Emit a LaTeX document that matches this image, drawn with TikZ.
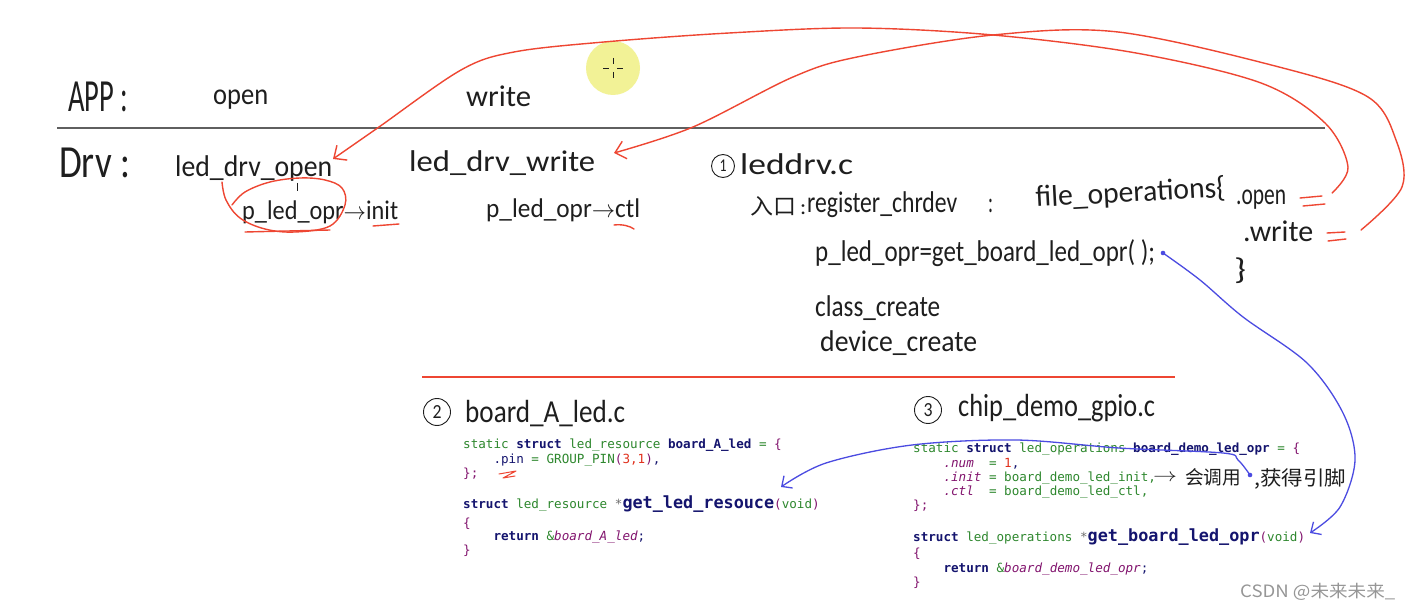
\documentclass[tikz,border=0pt]{standalone}
\usepackage{fontspec}
\usepackage{graphicx}
\usetikzlibrary{arrows.meta}
\newfontfamily\hwfont{Carlito}
\newfontfamily\codefont{DejaVu Sans Mono}
\newfontfamily\cjk{Noto Sans CJK SC}
\definecolor{ink}{RGB}{30,30,30}
\definecolor{penred}{RGB}{238,70,50}
\definecolor{penblue}{RGB}{75,75,225}
\definecolor{rulegray}{RGB}{95,95,95}
\definecolor{hilite}{RGB}{242,242,150}
\definecolor{cgreen}{RGB}{45,135,45}
\definecolor{cnavy}{RGB}{20,20,110}
\definecolor{cpurple}{RGB}{130,20,110}
\definecolor{cred}{RGB}{225,50,30}
\definecolor{cgray}{RGB}{110,110,110}
\definecolor{wm}{RGB}{150,150,150}
\newcommand\hw[3]{\resizebox{#2pt}{\height}{\fontsize{#1}{#1}\selectfont\hwfont #3}}
\newcommand\codesize{\codefont\fontsize{12.6}{15}\selectfont}
\newcommand\cG[1]{\textcolor{cgreen}{#1}}
\newcommand\cN[1]{\textcolor{cnavy}{\textbf{#1}}}
\newcommand\cD[1]{\textcolor{cnavy}{#1}}
\newcommand\cP[1]{\textcolor{cpurple}{#1}}
\newcommand\cR[1]{\textcolor{cred}{#1}}
\newcommand\cI[1]{\textcolor{cpurple}{\itshape #1}}
\newcommand\bigfn[1]{{\fontsize{16.8}{18}\selectfont\cN{#1}}}
\newcommand\ind{\phantom{0000}}
\begin{document}
\begin{tikzpicture}[x=1pt,y=-1pt,
  hand/.style={anchor=base west,inner sep=0,text=ink},
  codeline/.style={anchor=base west,inner sep=0,font=\codesize,text=cnavy},
  redpen/.style={draw=penred,line width=1.4pt,line cap=round,line join=round},
  bluepen/.style={draw=penblue,line width=1.3pt,line cap=round,line join=round},
  circ/.style={circle,draw=ink,line width=0.9pt,inner sep=0,text=ink},
]
\useasboundingbox (0,0) rectangle (1411,609);
\fill[white] (0,0) rectangle (1411,609);

% cursor highlight
\fill[hilite] (613,68) circle (27);
\draw[ink,line width=0.6pt] (603,68)--(609,68) (617,68)--(623,68) (613,58)--(613,64) (613,72)--(613,78);

% rules
\draw[rulegray,line width=1.5pt] (57,128) -- (1325,128);
\draw[penred,line width=1.3pt] (422,377) -- (1175,377);

% APP / Drv rows
\node[hand] (app) at (68,112) {\hw{46}{60}{APP :}};
\node[hand] (open) at (213,105) {\hw{30}{55}{open}};
\node[hand] (write) at (466,107) {\hw{30}{65}{write}};
\node[hand] (drv) at (59,178) {\hw{46}{71}{Drv :}};
\node[hand] (drvopen) at (175,177) {\hw{30}{157}{led\_drv\_open}};
\node[hand] (drvwrite) at (409,172) {\hw{30}{186}{led\_drv\_write}};
\node[hand] (initcall) at (242,220) {\hw{27}{156}{p\_led\_opr$\rightarrow$init}};
\node[hand] (ctlcall) at (486,218) {\hw{27}{154}{p\_led\_opr$\rightarrow$ctl}};

% leddrv.c
\node[circ,minimum size=23pt] (c1) at (723,166) {\hw{18}{7}{1}};
\node[hand] (leddrv) at (740,175) {\hw{30}{113}{leddrv.c}};
\node[hand] (entry) at (750,215) {\resizebox{56pt}{\height}{\fontsize{22}{22}\selectfont\cjk 入口\hwfont\,:}};
\node[hand] (reg) at (807,213) {\hw{30}{150}{register\_chrdev}};
\node[hand] (colon2) at (988,213) {\hw{30}{5}{:}};
\node[hand,rotate=3] (fops) at (1036,207) {\hw{30}{190}{file\_operations\{}};
\node[hand] (fopen) at (1236,205) {\hw{30}{50}{.open}};
\node[hand] (fwrite) at (1243,242) {\hw{30}{70}{.write}};
\node[hand] (fclose) at (1234,280) {\hw{30}{12}{\}}};
\node[hand] (getopr) at (815,262) {\hw{30}{340}{p\_led\_opr=get\_board\_led\_opr( );}};
\node[hand] (classc) at (815,317) {\hw{30}{125}{class\_create}};
\node[hand] (devc) at (820,352) {\hw{30}{157}{device\_create}};

% board_A_led.c
\node[circ,minimum size=27pt] (c2) at (437,412) {\hw{20}{9}{2}};
\node[hand] (boardA) at (465,422) {\hw{32}{160}{board\_A\_led.c}};
\node[codeline] (a1) at (463,449) {\cG{static} \cN{struct} \cG{led\_resource} \cN{board\_A\_led} \cG{=} \cP{\{}};
\node[codeline] (a2) at (463,463) {\ind\cD{.pin} \cG{=} \cG{GROUP\_PIN}\cP{(}\cR{3,1}\cP{)}\cD{,}};
\node[codeline] (a3) at (463,477) {\cP{\};}};
\node[codeline] (a4) at (463,508) {\cN{struct} \cG{led\_resource} \textcolor{cgray}{*}\bigfn{get\_led\_resouce}\cP{(}\cG{void}\cP{)}};
\node[codeline] (a5) at (463,527) {\cP{\{}};
\node[codeline] (a6) at (463,540) {\ind\cN{return} \cG{\&}\cI{board\_A\_led}\cD{;}};
\node[codeline] (a7) at (463,554) {\cP{\}}};

% chip_demo_gpio.c
\node[circ,minimum size=27pt] (c3) at (928,410) {\hw{20}{9}{3}};
\node[hand] (chip) at (958,417) {\hw{32}{197}{chip\_demo\_gpio.c}};
\node[codeline] (b1) at (913,453) {\cG{static} \cN{struct} \cG{led\_operations} \cN{board\_demo\_led\_opr} \cG{=} \cP{\{}};
\node[codeline] (b2) at (913,467) {\ind\cI{.num}\ \ \cG{=} \cR{1}\cD{,}};
\node[codeline] (b3) at (913,481) {\ind\cI{.init} \cG{= board\_demo\_led\_init,}};
\node[codeline] (b4) at (913,495) {\ind\cI{.ctl}\ \ \cG{= board\_demo\_led\_ctl,}};
\node[codeline] (b5) at (913,509) {\cP{\};}};
\node[codeline] (b6) at (913,541) {\cN{struct} \cG{led\_operations} \textcolor{cgray}{*}\bigfn{get\_board\_led\_opr}\cP{(}\cG{void}\cP{)}};
\node[codeline] (b7) at (913,557) {\cP{\{}};
\node[codeline] (b8) at (913,572) {\ind\cN{return} \cG{\&}\cI{board\_demo\_led\_opr}\cD{;}};
\node[codeline] (b9) at (913,586) {\cP{\}}};
\node[hand] (narrow) at (1153,481) {\resizebox{24pt}{7pt}{$\rightarrow$}};
\node[hand] (note1) at (1185,484) {\resizebox{56pt}{\height}{\fontsize{19}{19}\selectfont\cjk 会调用}};
\node[hand] (note2) at (1254,485) {\resizebox{92pt}{\height}{\fontsize{20}{20}\selectfont\cjk ,获得引脚}};

% watermark
\node[anchor=base west,inner sep=0,text=wm] (wmark) at (1240,597) {\resizebox{155pt}{\height}{\fontsize{17}{17}\selectfont\cjk CSDN @未来未来\_}};

% red marks
\draw[redpen] plot[smooth,tension=0.6] coordinates {(222,182) (226,200) (240,218) (265,229) (295,232) (330,226) (345,205) (342,188) (325,180) (300,178) (270,182) (245,192) (232,205)};
\draw[ink,line width=0.8pt] (297,183)--(297,191);
\draw[redpen] (245,232) -- (330,230);
\draw[redpen] (373,226) -- (399,224);
\draw[redpen] (614,225) .. controls (622,224) and (630,226) .. (634,229);
\draw[redpen] (1300,198)--(1322,196) (1303,206)--(1325,204);
\draw[redpen] (1327,233)--(1345,232) (1328,241)--(1346,239);
\draw[redpen,line width=1pt] (499,474)--(516,471)--(503,478)--(515,476);

% red connectors
\coordinate (aStart) at (1332,193);
\coordinate (aTip) at (333,159);
\draw[redpen,-{Straight Barb[length=10pt,width=18pt]}] plot[smooth,tension=0.55] coordinates {(aStart) (1348,167) (1325,123) (1261,83) (1136,53) (993,35) (857,28) (729,33) (604,42) (514,52) (461,70) (379,127) (aTip)};
\coordinate (wStart) at (1361,230);
\coordinate (wTip) at (614,153);
\draw[redpen,-{Straight Barb[length=10pt,width=18pt]}] plot[smooth,tension=0.55] coordinates {(wStart) (1402,187) (1396,140) (1368,97) (1279,67) (1118,32) (993,35) (857,57) (793,77) (693,127) (wTip)};

% blue connectors
\coordinate (bStart) at (1163,253);
\coordinate (bTip) at (1310,533);
\fill[penblue] (bStart) circle (2.3);
\draw[bluepen,-{Straight Barb[length=8pt,width=15pt]}] plot[smooth,tension=0.55] coordinates {(bStart) (1200,280) (1243,317) (1307,363) (1343,413) (1355,460) (1340,507) (bTip)};
\coordinate (cStart) at (1250,475);
\coordinate (cTip) at (781,487);
\fill[penblue] (cStart) circle (2.3);
\draw[bluepen,-{Straight Barb[length=8pt,width=15pt]}] plot[smooth,tension=0.55] coordinates {(cStart) (1238,460) (1223,453) (1119,448) (1016,440) (912,445) (826,463) (cTip)};
\end{tikzpicture}
\end{document}
